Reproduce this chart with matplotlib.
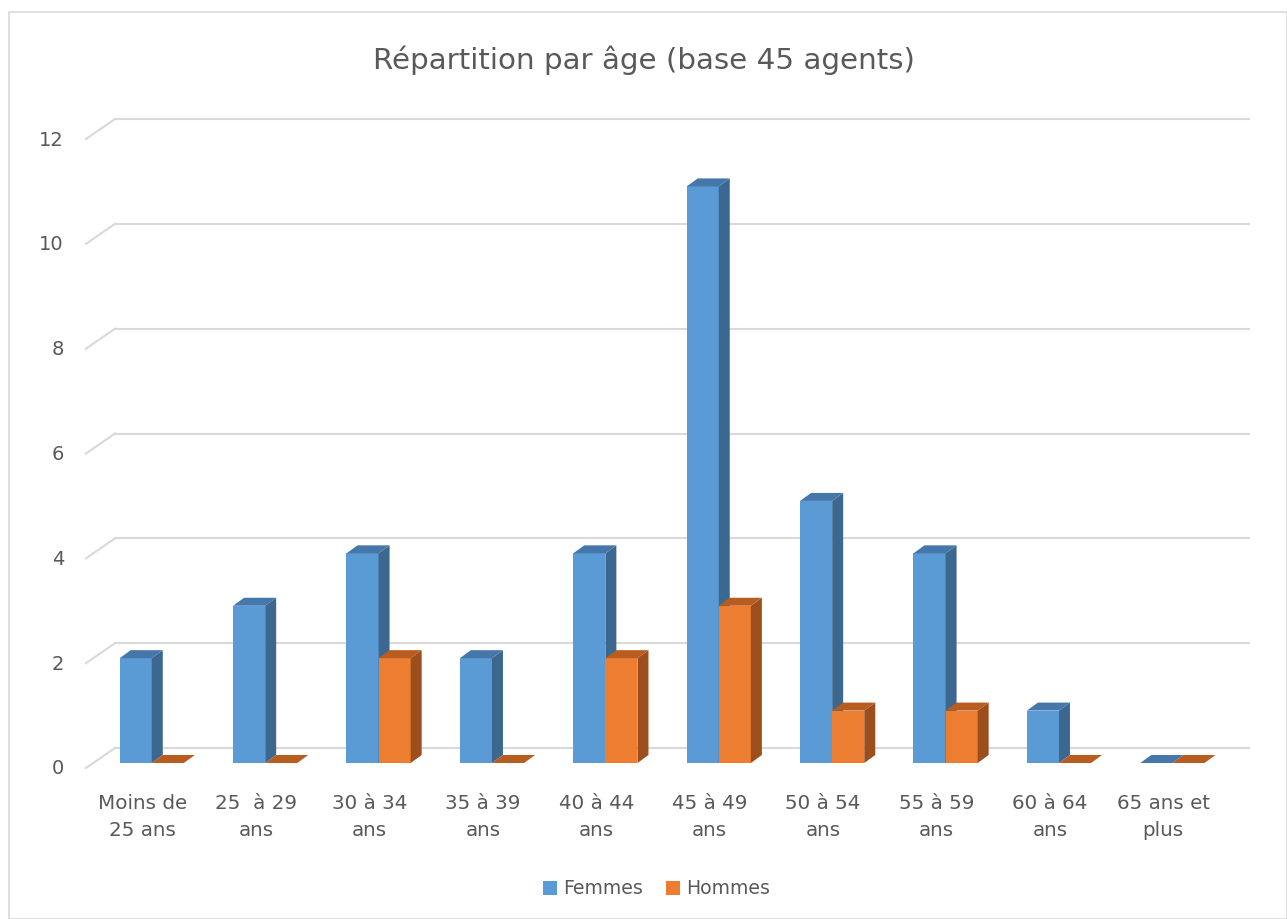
import numpy as np
import matplotlib.pyplot as plt
from matplotlib.patches import Polygon, Rectangle

categories = ["Moins de\n25 ans", "25  à 29\nans", "30 à 34\nans", "35 à 39\nans",
              "40 à 44\nans", "45 à 49\nans", "50 à 54\nans", "55 à 59\nans",
              "60 à 64\nans", "65 ans et\nplus"]
femmes = [2, 3, 4, 2, 4, 11, 5, 4, 1, 0]
hommes = [0, 0, 2, 0, 2, 3, 1, 1, 0, 0]
yticks = [0, 2, 4, 6, 8, 10, 12]

W, H = 1287, 920
fig = plt.figure(figsize=(W / 100, H / 100), dpi=100)
fig.patch.set_facecolor("white")

# front plane of the plot area, in pixels
left_px, right_px = 86, 1220
base_px, top_px = 769, 140
ax = fig.add_axes([left_px / W, (H - base_px) / H,
                   (right_px - left_px) / W, (base_px - top_px) / H])
ax.set_xlim(-0.5, len(categories) - 0.5)
ax.set_ylim(0, 12)
ax.axis("off")

px_x = (len(categories)) / (right_px - left_px)   # data units per pixel
px_y = 12 / (base_px - top_px)

# back wall offset, bar depth, bar offset from the front plane
wall_dx, wall_dy = 29 * px_x, 20 * px_y
bar_dx, bar_dy = 11 * px_x, 8 * px_y
bar_y0 = 5 * px_y

grid_col = "#d9d9d9"
text_col = "#595959"
for v in yticks:
    ax.plot([-0.5, -0.5 + wall_dx], [v, v + wall_dy], color=grid_col, lw=1.5,
            clip_on=False, zorder=1)
    ax.plot([-0.5 + wall_dx, len(categories) - 0.5 + wall_dx], [v + wall_dy, v + wall_dy],
            color=grid_col, lw=1.5, clip_on=False, zorder=1)
    ax.text(-0.5 - 22 * px_x, v, str(v), ha="right", va="center", fontsize=14,
            color=text_col)

bw = 0.283


def bar3d(x0, h, front, side, top, z):
    y0 = bar_y0
    if h > 0:
        ax.add_patch(Rectangle((x0, y0), bw, h, facecolor=front, edgecolor="none",
                               zorder=z, clip_on=False))
        ax.add_patch(Polygon([(x0 + bw, y0), (x0 + bw + bar_dx, y0 + bar_dy),
                              (x0 + bw + bar_dx, y0 + h + bar_dy), (x0 + bw, y0 + h)],
                             facecolor=side, edgecolor="none", zorder=z, clip_on=False))
    ax.add_patch(Polygon([(x0, y0 + h), (x0 + bw, y0 + h),
                          (x0 + bw + bar_dx, y0 + h + bar_dy),
                          (x0 + bar_dx, y0 + h + bar_dy)],
                         facecolor=top, edgecolor="none", zorder=z, clip_on=False))


for i in range(len(categories)):
    z = 3 + 2 * i
    bar3d(i - 0.203, femmes[i], "#5b9bd5", "#3c6890", "#4677aa", z)
    bar3d(i - 0.203 + bw, hommes[i], "#ed7d31", "#9c4e1c", "#b85c20", z + 1)
    ax.text(i, -48 * px_y, categories[i], ha="center", va="center", fontsize=14.3,
            color=text_col, linespacing=1.5)

fig.text(0.5, 1 - 60 / H, "Répartition par âge (base 45 agents)", ha="center",
         va="center", fontsize=21.2, color=text_col)

# legend
for xs, lab, col in [(543, "Femmes", "#5b9bd5"), (666, "Hommes", "#ed7d31")]:
    fig.patches.append(Rectangle((xs / W, 1 - 896 / H), 14 / W, 14 / H,
                                 transform=fig.transFigure, facecolor=col,
                                 edgecolor="none"))
    fig.text((xs + 20) / W, 1 - 889 / H, lab, ha="left", va="center",
             fontsize=13.6, color=text_col)

# chart area border
fig.patches.append(Rectangle((8.5 / W, 0), 1 - 8.5 / W, 1 - 12.5 / H,
                             transform=fig.transFigure, facecolor="none",
                             edgecolor="#d9d9d9", lw=1.2))

fig.savefig("out.png", dpi=100)
